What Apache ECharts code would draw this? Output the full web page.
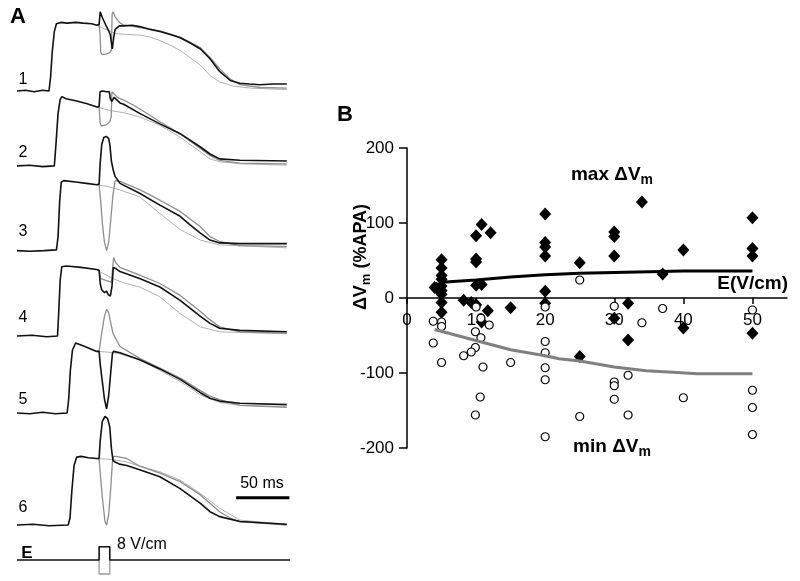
<!DOCTYPE html>
<html>
<head>
<meta charset="utf-8">
<script src="https://cdn.jsdelivr.net/npm/echarts@6/dist/echarts.min.js"></script>
<style>
html,body{margin:0;padding:0;background:#fff;}
#main{width:800px;height:581px;}
</style>
</head>
<body>
<div id="main"></div>
<script>
// ---- panel A: optical APs, [time ms, Vm %APA] ----
var black1 = [[0,0],[8,1],[16,-1],[24,1],[30,0],[31.5,20],[33,55],[35,85],[37,96],[41,98],[47,97],[55,98],[62,97],[70,96],[75,94],[77,95],[78,113],[80,105],[83,95],[86,86],[87.5,80],[89.4,60],[90.6,76],[92,88],[96,93],[100,93],[108,94],[115,92],[125,88],[134,85],[143,81],[153,76],[162,69],[172,60],[181,46],[190,28],[200,15],[209,11],[218,10],[228,9],[240,10],[253,10]];
var gray1 = [[75,94],[77,95],[77.9,80],[78.5,55],[80,52],[84,53],[87,55],[88.5,58],[89.2,110],[90.2,113],[92,106],[96,98],[100,94],[110,92],[125,88],[134,86],[153,77],[172,62],[181,48],[190,32],[200,17],[209,9],[228,5],[253,4]];
var ctrl1 = [[75,94],[80,90],[88,85],[92,82],[100,81],[115,80],[125,77],[134,72],[143,66],[153,58],[162,48],[172,37],[181,22],[190,13],[203,7],[220,4],[253,2]];

var black2 = [[0,0],[12,1],[24,-1],[35,0],[36.5,30],[38.5,75],[40.5,95],[42,99],[46,96],[55,93],[65,89],[75,84],[77,85],[77.9,106],[80,107],[84,106],[86.5,106],[87.5,96],[89,92],[91,98],[93,95],[96.6,90],[100,88],[115,75],[134,60],[153,46],[172,27],[181,17],[190,10],[209,8],[253,7]];
var gray2 = [[75,84],[77,85],[77.9,62],[79,57],[84,59],[87,63],[88.3,70],[89,106],[90.5,105],[93.5,99],[96.6,96],[100,94],[109,87],[125,72],[134,63],[153,46],[172,25],[181,15],[190,8],[209,4],[253,3]];
var ctrl2 = [[75,84],[88,79],[100,76],[115,70],[134,58],[153,41],[172,20],[181,10],[190,6],[209,3],[253,1]];

var black3 = [[0,0],[12,-1],[25,0],[37,1],[38.5,20],[40,70],[41.5,98],[44,100],[55,98],[65,96],[75,94],[77,95],[78,125],[79.5,152],[81.5,162],[84,163],[86,160],[87.2,150],[88.5,128],[90.4,114],[92,106],[96.6,96],[115,82],[134,65],[153,49],[162,37],[172,25],[181,15],[190,11],[209,10],[253,10]];
var gray3 = [[75,94],[77,95],[78.5,70],[80,40],[82,12],[84,0],[86,12],[88,45],[90,80],[92,100],[96.6,99],[115,87],[134,72],[153,56],[172,34],[181,20],[190,13],[209,7],[253,6]];
var ctrl3 = [[75,94],[84,92],[93.5,88],[115,77],[134,53],[153,30],[172,15],[190,8],[253,4]];

var black4 = [[0,0],[14,1],[28,-1],[38,0],[39,30],[40.5,80],[42,99],[46.6,100],[60,98],[74.7,95],[77,94],[78,75],[79.4,66],[82,62],[84,64],[85.5,59],[87.5,57],[89,70],[90.4,98],[93,96],[96.6,92],[115,82],[134,70],[153,51],[172,28],[181,18],[190,11],[209,8],[253,6]];
var gray4 = [[75,94],[77,94],[78.5,82],[84,79],[88.5,77],[89.6,95],[90.6,112],[92.5,105],[96.6,98],[115,87],[134,75],[153,58],[172,35],[181,23],[190,13],[209,6],[253,4]];
var ctrl4 = [[75,94],[80,90],[90,82],[100,76],[115,70],[134,56],[153,32],[172,13],[190,6],[253,3]];

var black5 = [[0,0],[12,-1],[24,1],[36,-1],[47,0],[48.5,20],[50,60],[52,90],[55,100],[60,97],[67,93],[74.7,88],[77,88],[78,70],[80,45],[82,20],[84,6],[86,25],[88,60],[89.5,85],[90.4,88],[96.6,86],[115,76],[134,63],[153,48],[172,29],[181,21],[190,17],[209,14],[253,12]];
var gray5 = [[75,88],[77,88],[79,110],[82,138],[84,148],[86,143],[88,128],[90,114],[92,108],[96.6,95],[115,78],[134,64],[153,50],[172,32],[181,24],[190,19],[209,11],[253,8]];
var ctrl5 = [[75,88],[85,87],[95,85],[115,76],[134,61],[153,45],[172,26],[190,15],[209,11],[253,9]];

var black6 = [[0,0],[15,1],[30,-1],[48,0],[49.7,10],[51.5,50],[53.5,85],[56,97],[60,98],[67,96],[74.7,95],[77,95],[78,120],[80,148],[82.5,155],[85,152],[87,140],[88.5,110],[90,92],[92,90],[96,87],[103,85],[115,79],[134,69],[153,52],[172,31],[181,19],[190,12],[209,5],[253,1]];
var gray6 = [[75,95],[77,94],[78,75],[80,40],[82.5,5],[84,0],[86,15],[88,55],[89.5,90],[90.5,98],[93,98],[96.6,97],[103,95],[115,84],[134,74],[153,62],[172,43],[181,31],[190,19],[200,10],[209,5],[253,0]];
var ctrl6 = [[75,95],[85,94],[92,93],[103,90],[115,84],[134,76],[153,64],[172,45],[190,24],[209,7],[253,1]];

// shock waveform (8 V/cm, 10 ms), both polarities
var eBlack = [[0,0],[77,0],[77,19],[87,19],[87,0],[256,0]];
var eGray = [[77,0],[77,-20],[87,-20],[87,0]];
var traceLabels = ['1','2','3','4','5','6'];

// ---- panel B: dVm vs field strength ----
var maxE = [4,4.3,5,5,5,5,5,5,5,5,5,8.2,9.3,10,10,10,10,10,10.8,10.8,10.8,11.7,12.1,15,20,20,20,20,20,20,25,25,30,30,30,30,32,32,34,37,40,40,50,50,50,50];
var maxV = [14,13,51,40,30,25,16,10,5,-6,-19,-3,-6,83,52,48,17,-9,98,18,-32,-17,87,-13,112,74,68,56,9,-7,47,-78,88,82,56,-27,-7,-56,128,32,64,-40,107,66,56,-47];
var minE = [3.8,5,5,3.8,5,10,10.7,11.9,9.9,10.7,9.9,9.3,8.2,11,10.6,9.9,15,20,20,20,20,20,20,25,25,30,30,30,30,32,32,34,37,40,50,50,50,50];
var minV = [-31,-32,-38,-60,-86,-12,-27,-36,-45,-53,-66,-72,-77,-92,-132,-156,-86,-12,-58,-73,-93,-109,-185,24,-158,-11,-112,-117,-135,-103,-156,-33,-14,-133,-16,-123,-146,-182];
var maxFitE = [5,10,15,20,25,30,35,40,50];
var maxFitV = [21,24,28,31,33,34,35,36,36];
var minFitE = [4,10.5,15,20,22,25,30,34.6,38.5,42,50];
var minFitV = [-42,-58,-69,-77,-81,-84,-92,-97,-99,-101,-101];
var eTicks = [0,10,20,30,40,50];

var traces = [[black1,gray1,ctrl1],[black2,gray2,ctrl2],[black3,gray3,ctrl3],[black4,gray4,ctrl4],[black5,gray5,ctrl5],[black6,gray6,ctrl6]];
var traceOffsets = [700, 593, 472, 350, 240, 80];   // stacking in panel A
var eOffset = 30;
var font = '"Liberation Sans", Arial, sans-serif';

function shift(arr, off) {
    return arr.map(function (p) { return [p[0], p[1] + off]; });
}
function zip(a, b) {
    return a.map(function (v, i) { return [v, b[i]]; });
}
function trace(data, color, w) {
    return {
        type: 'line', xAxisIndex: 0, yAxisIndex: 0, data: data,
        showSymbol: false, symbol: 'none', silent: true, animation: false,
        lineStyle: {color: color, width: w}
    };
}

var series = [];
traces.forEach(function (t, i) {
    series.push(trace(shift(t[2], traceOffsets[i]), '#a8a8a8', 0.9));
    series.push(trace(shift(t[1], traceOffsets[i]), '#8e8e8e', 1.3));
    series.push(trace(shift(t[0], traceOffsets[i]), '#111', 1.6));
});
series.push(trace(shift(eGray, eOffset), '#999', 1.3));
series.push(trace(shift(eBlack, eOffset), '#111', 1.6));
// 50 ms scale bar
series.push(trace([[205.5,119],[255.5,119]], '#000', 3));

// panel B
series.push({type:'line', xAxisIndex:1, yAxisIndex:1, data: zip(maxFitE, maxFitV), symbol:'none', silent:true, animation:false,
    lineStyle:{color:'#000', width:3}});
series.push({type:'line', xAxisIndex:1, yAxisIndex:1, data: zip(minFitE, minFitV), symbol:'none', silent:true, animation:false,
    lineStyle:{color:'#808080', width:3}});
series.push({type:'scatter', xAxisIndex:1, yAxisIndex:1, data: zip(maxE, maxV), symbol:'diamond', symbolSize:[12,13], silent:true, animation:false,
    itemStyle:{color:'#000', opacity:1}});
series.push({type:'scatter', xAxisIndex:1, yAxisIndex:1, data: zip(minE, minV), symbol:'circle', symbolSize:8, silent:true, animation:false,
    itemStyle:{color:'#fff', borderColor:'#000', borderWidth:1.2, opacity:1}});

function label(x, y, s, size, bold, align) {
    return {type:'text', x:x, y:y, silent:true, style:{text:s, fontSize:size, fontFamily:font,
        fontWeight: bold ? 'bold' : 'normal', fill:'#000', align: align || 'center', verticalAlign:'middle'}};
}
function subLabel(x, y, main, sub, tail, size, rot) {
    return {type:'text', x:x, y:y, rotation: rot || 0, silent:true, style:{
        text:'{a|' + main + '}{s|' + sub + '}' + (tail ? '{a|' + tail + '}' : ''),
        align:'center', verticalAlign:'middle',
        rich:{
            a:{fontSize:size, fontWeight:'bold', fontFamily:font, fill:'#000'},
            s:{fontSize:Math.round(size*0.72), fontWeight:'bold', fontFamily:font, fill:'#000', padding:[Math.round(size*0.55),0,0,0]}
        }}};
}

var graphics = [
    label(18, 17, 'A', 22, true),
    label(345, 115, 'B', 22, true),
    label(262, 484, '50 ms', 16),
    label(27, 553, 'E', 17, true),
    label(117, 545, '8 V/cm', 16, false, 'left'),
    label(788, 284, 'E(V/cm)', 19, true, 'right'),
    subLabel(612, 175, 'max ΔV', 'm', '', 19),
    subLabel(612, 447, 'min ΔV', 'm', '', 19),
    subLabel(361, 257, 'ΔV', 'm', ' (%APA)', 18, Math.PI / 2)
];
var labelY = [80, 153, 232, 318, 400, 508];
traceLabels.forEach(function (s, i) { graphics.push(label(23, labelY[i], s, 16)); });

var chart = echarts.init(document.getElementById('main'));
chart.setOption({
    animation: false,
    backgroundColor: '#fff',
    grid: [
        {left: 17, top: 0, width: 273, height: 581},
        {left: 407, top: 148, width: 380, height: 300}
    ],
    xAxis: [
        {gridIndex: 0, type: 'value', min: 0, max: 256, show: false},
        // E axis crosses at dVm = 0 (middle of the plot)
        {gridIndex: 1, type: 'value', min: 0, max: 55, interval: 10, position: 'bottom', offset: -150,
            axisLine: {onZero: false, lineStyle: {color: '#000', width: 1.5}},
            axisTick: {length: 6, lineStyle: {color: '#000', width: 1.5}, customValues: eTicks},
            axisLabel: {fontSize: 17, fontFamily: font, color: '#000', margin: 14, customValues: eTicks},
            splitLine: {show: false}}
    ],
    yAxis: [
        {gridIndex: 0, type: 'value', min: 0, max: 830, show: false},
        {gridIndex: 1, type: 'value', min: -200, max: 200, interval: 100,
            axisLine: {onZero: false, lineStyle: {color: '#000', width: 1.5}},
            axisTick: {length: 8, lineStyle: {color: '#000', width: 1.5}},
            axisLabel: {fontSize: 17, fontFamily: font, color: '#000', margin: 13},
            splitLine: {show: false}}
    ],
    series: series,
    graphic: graphics
});
</script>
</body>
</html>
